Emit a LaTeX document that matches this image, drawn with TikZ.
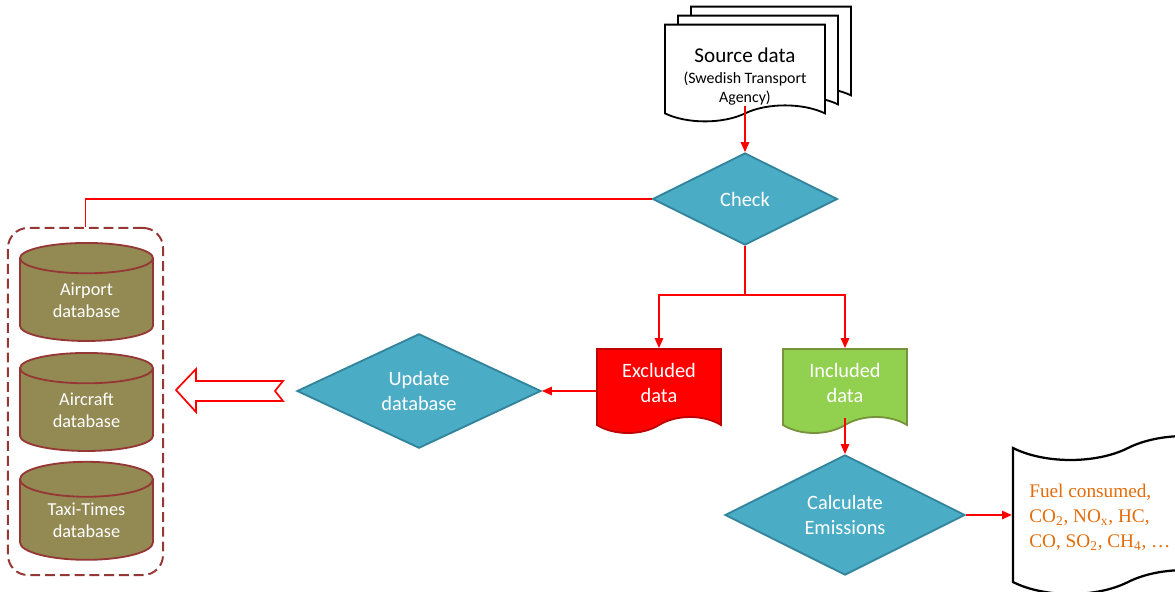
\documentclass[tikz,border=0pt]{standalone}
\usepackage{fontspec}
\setmainfont{Carlito}
\newfontfamily\serifout{Liberation Serif}
\usetikzlibrary{shapes.geometric,shapes.symbols,shadows,arrows.meta}
\definecolor{flowred}{HTML}{FF0000}
\definecolor{decfill}{HTML}{4BACC6}
\definecolor{decline}{HTML}{31849B}
\definecolor{exline}{HTML}{C00000}
\definecolor{infill}{HTML}{92D050}
\definecolor{inline}{HTML}{77933C}
\definecolor{dbfill}{HTML}{938953}
\definecolor{dbline}{HTML}{953735}
\definecolor{outorange}{HTML}{E46C0A}
\begin{document}
\begin{tikzpicture}[x=0.025cm, y=-0.025cm, >={Triangle[length=7pt,width=6pt]},
    flow/.style={draw=flowred, line width=1pt},
    decision/.style={diamond, draw=decline, fill=decfill, line width=1.3pt, text=white, inner sep=0pt, align=center, font=\fontsize{14.5}{17.7}\selectfont},
    docshape/.style={tape, tape bend top=none, tape bend height=0.4cm, line width=1.3pt, inner sep=0pt, align=center, font=\fontsize{14.5}{18.4}\selectfont},
    database/.style={cylinder, shape border rotate=90, aspect=0.45, draw=dbline, fill=dbfill, line width=1.3pt, text=white, inner sep=0pt, align=center, minimum width=3.325cm, minimum height=2.45cm, font=\fontsize{13}{15.6}\selectfont}]

    \clip (0,0) rectangle (1175,591);

    \node[docshape, draw=black, fill=white, minimum width=4cm, minimum height=2.25cm, font=\fontsize{11.3}{13.5}\selectfont,
        double copy shadow={shadow xshift=0.325cm, shadow yshift=0.225cm, draw=black, fill=white, line width=1.3pt}]
        (source) at (745,65) {{\fontsize{15}{15}\selectfont\rule{0pt}{27pt}Source data}\\[1.5pt](Swedish Transport\\Agency)};

    \node[decision, minimum width=4.625cm, minimum height=2.3cm] (check) at (745,199) {Check};
    \node[decision, minimum width=6.1cm, minimum height=2.625cm] (update) at (419,391) {Update\\database};
    \node[decision, minimum width=6cm, minimum height=2.875cm] (calc) at (845,515) {Calculate\\Emissions};

    \node[docshape, draw=exline, fill=flowred, text=white, minimum width=3.1cm, minimum height=2.1cm] (excluded) at (659,383) {Excluded\\data};
    \node[docshape, draw=inline, fill=infill, text=white, minimum width=3.1cm, minimum height=2.1cm] (included) at (845,383) {Included\\data};

    \node[draw=dbline, dashed, dash pattern=on 7pt off 3.5pt, line width=1.4pt, rounded corners=0.5cm, minimum width=3.875cm, minimum height=8.675cm] (dbgroup) at (85.5,401.5) {};
    \node[database] (airportdb) at (86.5,300) {Airport\\database};
    \node[database] (aircraftdb) at (86.5,410) {Aircraft\\database};
    \node[database] (taxidb) at (86.5,520) {Taxi-Times\\database};

    \draw[draw=flowred, line width=1.2pt, fill=white] (176,390) -- (196,369) -- (196,381) -- (283,381) -- (275,391) -- (283,401) -- (196,401) -- (196,412) -- cycle;

    \node[overlay, tape, draw=black, line width=1.6pt, fill=white, minimum width=5.75cm, minimum height=3.95cm, tape bend height=0.6cm] (output) at (1128,515) {};
    \node[anchor=west, align=left, text=outorange, inner sep=0pt, font=\serifout\fontsize{13.7}{17.7}\selectfont] (emitlist) at (1029,517) {Fuel consumed,\\CO\textsubscript{2}, NO\textsubscript{x}, HC,\\CO, SO\textsubscript{2}, CH\textsubscript{4}, \ldots};

    \coordinate (split) at (745,295);
    \draw[flow, ->] (source.south) -- (check.north);
    \draw[flow] (check.south) -- (split);
    \draw[flow, ->] (split) -| (excluded.north);
    \draw[flow, ->] (split) -| (included.north);
    \draw[flow, ->] (excluded.west |- update.east) -- (update.east);
    \draw[flow, ->] (included.south) -- (calc.north);
    \draw[flow, ->] (calc.east) -- (output.west);
    \draw[flow] (check.west) -| (dbgroup.north);

\end{tikzpicture}
\end{document}
